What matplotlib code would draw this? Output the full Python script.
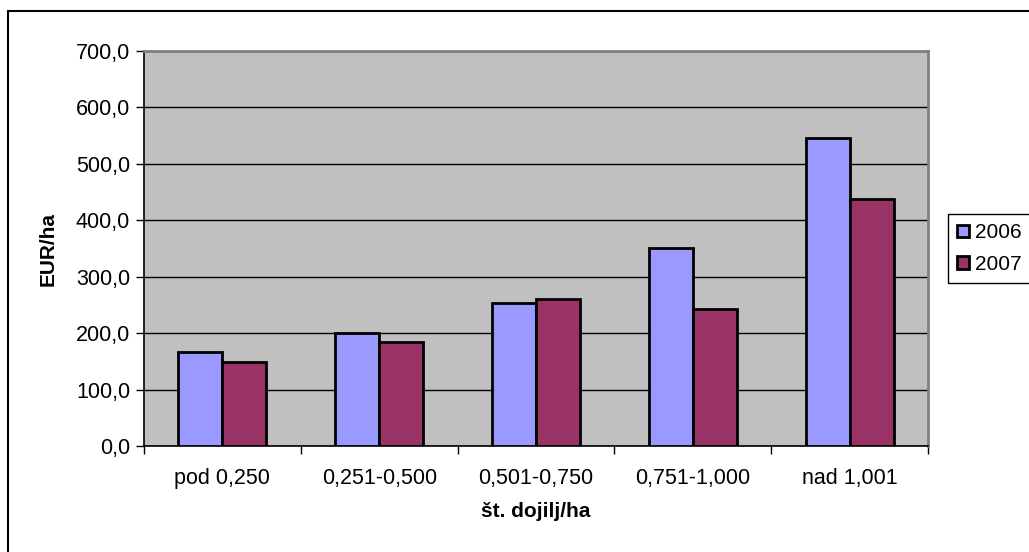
import matplotlib
matplotlib.use("Agg")
import matplotlib.pyplot as plt
import numpy as np
from matplotlib.patches import Rectangle
from matplotlib.ticker import FuncFormatter, MultipleLocator

categories = ["pod 0,250", "0,251-0,500", "0,501-0,750", "0,751-1,000", "nad 1,001"]
series_names = ["2006", "2007"]
values_2006 = [166, 201, 253, 351, 545]
values_2007 = [148, 184, 261, 242, 437]
colors = ["#9999FF", "#993366"]

plt.rcParams['font.family'] = ['Liberation Sans', 'DejaVu Sans']

fig = plt.figure(figsize=(10.29, 5.52), dpi=100)
ax = fig.add_axes([144/1029, 1-446/552, (928-144)/1029, (446-51)/552])
ax.set_facecolor("#C0C0C0")

x = np.arange(len(categories))
w = 0.28
for i, (vals, name) in enumerate([(values_2006, series_names[0]), (values_2007, series_names[1])]):
    ax.bar(x + (i - 0.5) * w, vals, width=w, color=colors[i], edgecolor="black",
           linewidth=2.0, label=name, zorder=3)

ax.set_xlim(-0.5, len(categories) - 0.5)
ax.set_ylim(0, 700)
ax.yaxis.set_major_locator(MultipleLocator(100))
ax.yaxis.set_major_formatter(FuncFormatter(lambda v, p: f"{v:.1f}".replace(".", ",")))
ax.grid(axis="y", color="black", linewidth=1.0, zorder=1)
ax.set_axisbelow(True)

ax.set_xticks(x)
ax.set_xticklabels(categories, fontsize=15.5)
ax.tick_params(axis="x", length=0, pad=16)
ax.set_xticks(np.arange(len(categories) + 1) - 0.5, minor=True)
ax.tick_params(axis="x", which="minor", length=6, width=1, color="black")
ax.tick_params(axis="y", length=6, width=1, labelsize=15.5, pad=4)

for s in ["top", "right"]:
    ax.spines[s].set_color("#808080")
    ax.spines[s].set_linewidth(2)
for s in ["left", "bottom"]:
    ax.spines[s].set_color("black")
    ax.spines[s].set_linewidth(1.2)

ax.set_ylabel("EUR/ha", fontsize=15, fontweight="bold", labelpad=13)
ax.set_xlabel("št. dojilj/ha", fontsize=15, fontweight="bold", labelpad=9)

leg = fig.legend(loc="upper left", bbox_to_anchor=(948/1029, 1-214/552), fontsize=15,
                 frameon=True, fancybox=False, edgecolor="black", framealpha=1,
                 handlelength=0.58, handleheight=0.58, handletextpad=0.25,
                 borderpad=0.45, labelspacing=0.6, borderaxespad=0)
leg.get_frame().set_linewidth(1.0)
for h in leg.legend_handles:
    h.set_linewidth(2.0)

fig.patches.append(Rectangle((8/1029, -0.05), 1.2, 1 - 11/552 + 0.05, transform=fig.transFigure,
                             fill=False, edgecolor="black", linewidth=1.5))

fig.savefig("out.png", dpi=100)
